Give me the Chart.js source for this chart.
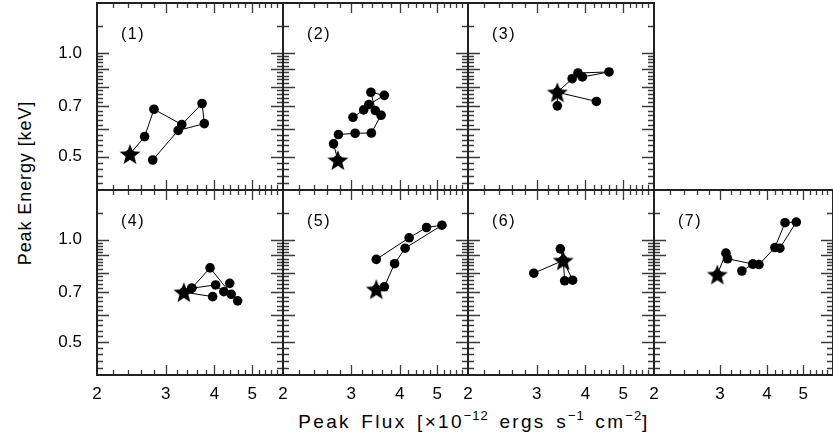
<!DOCTYPE html>
<html><head><meta charset="utf-8">
<script src="https://cdn.jsdelivr.net/npm/chart.js@4/dist/chart.umd.min.js"></script>
<style>
html,body{margin:0;padding:0;background:#fff;}
#wrap{position:relative;width:833px;height:442px;overflow:hidden;background:#fff;}
#wrap canvas{position:absolute;left:0;top:0;}
.ttl{position:absolute;font-family:'Liberation Sans',Arial,sans-serif;font-size:18px;color:#000;white-space:nowrap;letter-spacing:0.9px;line-height:1;}
#xtitle{font-size:19px;letter-spacing:2.3px;word-spacing:3px;}
.ttl sup{font-size:13px;vertical-align:0.6em;line-height:0;letter-spacing:1px;}
#ytitle{left:25px;top:183px;transform:translate(-50%,-50%) rotate(-90deg);}
#xtitle{left:474px;top:421px;transform:translate(-50%,-50%);}
</style></head><body>
<div id="wrap">
<div class="ttl" id="ytitle">Peak Energy [keV]</div>
<div class="ttl" id="xtitle">Peak Flux [×10<sup>−12</sup> ergs s<sup>−1</sup> cm<sup>−2</sup>]</div>
</div>
<script>
// ---------- data ----------
const panelLabels = ['(1)', '(2)', '(3)', '(4)', '(5)', '(6)', '(7)'];
const xTickLabels = [2, 3, 4, 5];
const yTickLabels = [0.5, 0.7, 1.0];
const xMajorTicks = [3, 4, 5];
const xMinorTicks = [2.2, 2.4, 2.6, 2.8, 3.2, 3.4, 3.6, 3.8, 4.2, 4.4, 4.6, 4.8, 5.2, 5.4, 5.6, 5.8];
const yMajorTicks = [0.5, 0.6, 0.7, 0.8, 0.9, 1.0];
const yMinorTicks = [0.42, 0.44, 0.46, 0.48, 0.52, 0.54, 0.56, 0.58, 0.62, 0.64, 0.66, 0.68,
                     0.72, 0.74, 0.76, 0.78, 0.82, 0.84, 0.86, 0.88, 0.92, 0.94, 0.96, 0.98, 1.2];
const xRange = [2, 6];
const yRange = [0.4, 1.4];

// star = first / marked observation of each panel
const starFlux   = [2.43, 2.77, 3.39, 3.34, 3.48, 3.51, 2.95];
const starEnergy = [0.509, 0.489, 0.770, 0.701, 0.715, 0.869, 0.790];

// tracks (null = break in the connecting line)
const flux1   = [2.43, 2.65, 2.80, 3.30, 3.72, 3.77, 3.23, 2.78];
const energy1 = [0.509, 0.572, 0.687, 0.620, 0.714, 0.624, 0.596, 0.489];

const flux2   = [2.77, 2.70, 2.78, 3.07, 3.38, 3.58, 3.46, 3.37, 3.65, 3.33, 3.23, 3.03];
const energy2 = [0.489, 0.545, 0.580, 0.585, 0.586, 0.660, 0.681, 0.770, 0.754, 0.709, 0.684, 0.651];

const flux3   = [3.39, 3.70, 3.83, 4.60, 3.93, null, 3.39, 3.39, 4.27];
const energy3 = [0.770, 0.843, 0.876, 0.882, 0.853, null, 0.703, 0.770, 0.724];

const flux4   = [3.96, 3.34, 3.50, 3.90, 4.42, 4.59, null, 3.50, 4.03, 4.23, 4.38];
const energy4 = [0.680, 0.701, 0.720, 0.826, 0.691, 0.661, null, 0.720, 0.736, 0.703, 0.744];

const flux5   = [3.48, 3.65, 3.88, 4.13, 5.14, 4.69, 4.23, 3.48];
const energy5 = [0.715, 0.727, 0.850, 0.944, 1.103, 1.086, 1.013, 0.875];

const flux6   = [2.95, 3.51, 3.54, null, 3.71, 3.51, 3.45];
const energy6 = [0.797, 0.869, 0.757, null, 0.760, 0.869, 0.940];

const flux7   = [2.95, 3.11, 3.14, 3.67, 3.81, 4.20, 4.47, 4.79, 4.33, null, 3.43, 3.67];
const energy7 = [0.790, 0.913, 0.879, 0.848, 0.845, 0.948, 1.122, 1.127, 0.944, null, 0.809, 0.848];

const fluxes   = [flux1, flux2, flux3, flux4, flux5, flux6, flux7];
const energies = [energy1, energy2, energy3, energy4, energy5, energy6, energy7];

// ---------- layout ----------
const W = 833, H = 442;
const colLeft = [97, 283, 468, 654], colRight = [283, 468, 654, 838];
const rowTop = [3, 190], rowBottom = [190, 375];
const panelPos = [[0,0],[0,1],[0,2],[1,0],[1,1],[1,2],[1,3]]; // [row, col]
const yAxisW = 60, xAxisH = 32;

Chart.defaults.font.family = "'Liberation Sans', Arial, sans-serif";
Chart.defaults.color = '#000';

function makeStar(r) {
  const s = Math.ceil(r * 2 + 2);
  const c = document.createElement('canvas');
  c.width = s; c.height = s;
  const g = c.getContext('2d');
  g.translate(s / 2, s / 2 + r * 0.1);
  g.beginPath();
  for (let i = 0; i < 10; i++) {
    const rad = i % 2 ? r * 0.42 : r;
    const a = -Math.PI / 2 + i * Math.PI / 5;
    g.lineTo(rad * Math.cos(a), rad * Math.sin(a));
  }
  g.closePath();
  g.fillStyle = '#000';
  g.fill();
  return c;
}
const starImg = makeStar(11);

const framePlugin = {
  id: 'frameTicks',
  afterDraw(chart) {
    const {ctx, chartArea: a} = chart;
    const xs = chart.scales.x, ys = chart.scales.y;
    ctx.save();
    ctx.strokeStyle = '#3a3a3a';
    ctx.lineWidth = 1.3;
    ctx.beginPath();
    const tick = (vals, len, isX) => {
      vals.forEach(v => {
        if (isX) {
          const p = Math.round(xs.getPixelForValue(v)) + 0.5;
          ctx.moveTo(p, a.bottom); ctx.lineTo(p, a.bottom - len);
          ctx.moveTo(p, a.top); ctx.lineTo(p, a.top + len);
        } else {
          const p = Math.round(ys.getPixelForValue(v)) + 0.5;
          ctx.moveTo(a.left, p); ctx.lineTo(a.left + len, p);
          ctx.moveTo(a.right, p); ctx.lineTo(a.right - len, p);
        }
      });
    };
    tick(xMinorTicks, 5, true);
    tick(xMajorTicks, 10, true);
    tick(yMinorTicks, 6, false);
    tick(yMajorTicks, 12, false);
    ctx.stroke();
    ctx.lineWidth = 2;
    ctx.strokeStyle = '#222';
    ctx.strokeRect(a.left, a.top, a.right - a.left, a.bottom - a.top);
    ctx.restore();
  }
};

const labelPlugin = {
  id: 'panelLabel',
  afterDraw(chart, args, opts) {
    const {ctx, chartArea: a} = chart;
    ctx.save();
    ctx.font = "16px 'Liberation Sans', Arial, sans-serif";
    ctx.letterSpacing = '1.5px';
    ctx.fillStyle = '#000';
    ctx.textAlign = 'center';
    ctx.textBaseline = 'middle';
    ctx.fillText(opts.text, a.left + 36, a.top + 32);
    ctx.restore();
  }
};

const wrap = document.getElementById('wrap');
panelPos.forEach(([row, col], i) => {
  const cv = document.createElement('canvas');
  cv.width = W; cv.height = H;
  wrap.appendChild(cv);
  const track = fluxes[i].map((x, k) => (x === null ? {x: null, y: null} : {x: x, y: energies[i][k]}));
  const showX = row === 1;
  const showY = col === 0;
  const yw = showY ? yAxisW : 0;
  const xh = showX ? xAxisH : 0;
  new Chart(cv, {
    type: 'scatter',
    data: {
      datasets: [
        {data: [{x: starFlux[i], y: starEnergy[i]}], pointStyle: starImg, pointRadius: 11, showLine: false},
        {data: track, showLine: true, spanGaps: false, borderColor: '#000', borderWidth: 1,
         pointStyle: 'circle', pointRadius: 4.8, pointBackgroundColor: '#000', pointBorderWidth: 0}
      ]
    },
    options: {
      responsive: false, animation: false, devicePixelRatio: 1,
      layout: {autoPadding: false,
               padding: {left: colLeft[col] - yw, top: rowTop[row], right: W - colRight[col], bottom: H - rowBottom[row] - xh}},
      events: [],
      plugins: {legend: {display: false}, tooltip: {enabled: false}, panelLabel: {text: panelLabels[i]}},
      scales: {
        x: {
          type: 'logarithmic', min: xRange[0], max: xRange[1], position: 'bottom',
          border: {display: false}, grid: {display: false, drawTicks: false},
          ticks: {display: showX, autoSkip: false, maxRotation: 0, minRotation: 0, padding: 9, font: {size: 17}, color: '#000',
                  callback: v => String(v)},
          afterBuildTicks: s => { s.ticks = xTickLabels.map(v => ({value: v})); },
          afterFit: s => { s.height = xh; s.paddingLeft = 0; s.paddingRight = 0; s.paddingTop = 0; s.paddingBottom = 0; }
        },
        y: {
          type: 'logarithmic', min: yRange[0], max: yRange[1], position: 'left',
          border: {display: false}, grid: {display: false, drawTicks: false},
          ticks: {display: showY, autoSkip: false, padding: 15, font: {size: 17}, color: '#000',
                  callback: v => Number(v).toFixed(1)},
          afterBuildTicks: s => { s.ticks = yTickLabels.map(v => ({value: v})); },
          afterFit: s => { s.width = yw; s.paddingLeft = 0; s.paddingRight = 0; s.paddingTop = 0; s.paddingBottom = 0; }
        }
      }
    },
    plugins: [framePlugin, labelPlugin]
  });
});
</script>
</body></html>
